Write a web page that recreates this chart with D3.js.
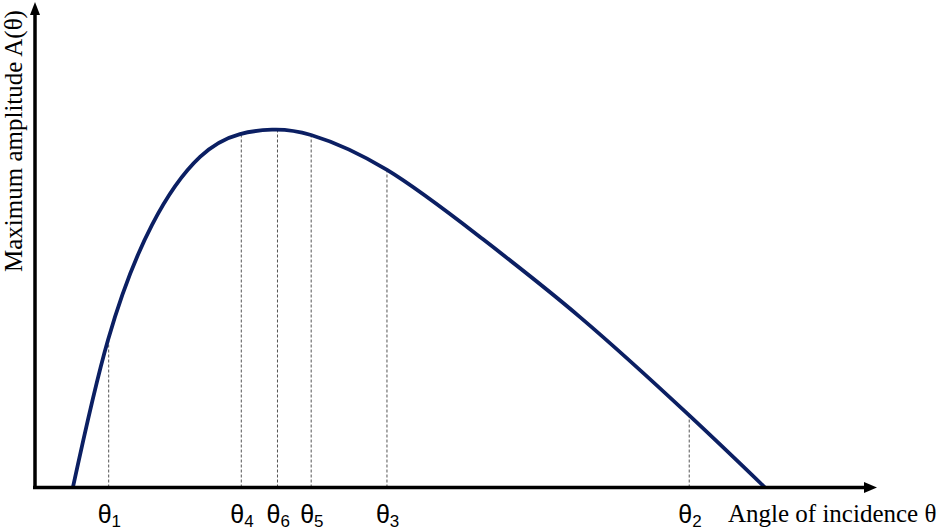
<!DOCTYPE html>
<html>
<head>
<meta charset="utf-8">
<script src="https://cdn.jsdelivr.net/npm/d3@7"></script>
<style>
  body { margin: 0; background: #fff; }
  .axisText { font-family: "Liberation Serif", "Times New Roman", serif; font-size: 25px; fill: #000; }
  .thetaText { font-family: "Liberation Sans", Arial, sans-serif; font-size: 25px; fill: #000; }
</style>
</head>
<body>
<div id="chart"></div>
<script>
// curve (angle units 0-100 along x axis, amplitude units 0-100 up y axis)
var curveAngle = [4.5, 8.67, 13.9, 19.6, 24.35, 28.15, 32.78, 41.81, 52.85, 64.73, 77.67, 86.7];
var curveAmp = [0, 30.4, 54.1, 68.1, 72.8, 73.7, 72.6, 65.4, 51.6, 35.1, 14.9, 0];

// marked angles and the height the dashed line reaches
var markSub = ["1", "4", "6", "5", "3", "2"];
var markAngle = [8.75, 24.5, 28.8, 32.8, 41.8, 77.7];
var markAmp = [30.3, 72.8, 73.7, 72.6, 65.2, 14.8];

var svgWidth = 944;
var svgHeight = 531;

var svg = d3.select("#chart")
  .append("svg")
  .attr("width", svgWidth)
  .attr("height", svgHeight);

var xScale = d3.scaleLinear().domain([0, 100]).range([35, 877]);
var yScale = d3.scaleLinear().domain([0, 100]).range([487.5, 2]);

var curveData = curveAngle.map(function (a, i) { return { x: a, y: curveAmp[i] }; });
var marks = markAngle.map(function (a, i) { return { x: a, y: markAmp[i], sub: markSub[i] }; });

// dashed guides
svg.selectAll(".guide")
  .data(marks)
  .enter()
  .append("line")
  .attr("class", "guide")
  .attr("x1", d => xScale(d.x))
  .attr("x2", d => xScale(d.x))
  .attr("y1", yScale(0))
  .attr("y2", d => yScale(d.y))
  .attr("stroke", "#555")
  .attr("stroke-width", 1)
  .attr("stroke-dasharray", "3,2");

// curve, natural spline keeps it smooth
var line = d3.line()
  .x(d => xScale(d.x))
  .y(d => yScale(d.y))
  .curve(d3.curveNatural);

svg.append("path")
  .datum(curveData)
  .attr("d", line)
  .attr("fill", "none")
  .attr("stroke", "#0b1f63")
  .attr("stroke-width", 3.8);

// axes with arrow heads
svg.append("line")
  .attr("x1", xScale(0) - 2).attr("y1", yScale(0))
  .attr("x2", xScale(100) - 10).attr("y2", yScale(0))
  .attr("stroke", "#000").attr("stroke-width", 3.5);

svg.append("line")
  .attr("x1", xScale(0)).attr("y1", yScale(0) + 1.5)
  .attr("x2", xScale(0)).attr("y2", yScale(100) + 10)
  .attr("stroke", "#000").attr("stroke-width", 3.5);

svg.append("path")
  .attr("d", d3.line()([[xScale(100), yScale(0)], [xScale(100) - 13, yScale(0) - 5.5], [xScale(100) - 13, yScale(0) + 5.5]]) + "Z")
  .attr("fill", "#000");

svg.append("path")
  .attr("d", d3.line()([[xScale(0), yScale(100)], [xScale(0) - 5, yScale(100) + 13], [xScale(0) + 5, yScale(100) + 13]]) + "Z")
  .attr("fill", "#000");

// theta labels
var labels = svg.selectAll(".thetaText")
  .data(marks)
  .enter()
  .append("text")
  .attr("class", "thetaText")
  .attr("x", d => xScale(d.x) - 11)
  .attr("y", 523);

labels.append("tspan").text("θ");
labels.append("tspan")
  .attr("dy", 4)
  .attr("font-size", 17)
  .text(d => d.sub);

// axis titles
svg.append("text")
  .attr("class", "axisText")
  .attr("x", 728)
  .attr("y", 522)
  .text("Angle of incidence θ");

svg.append("text")
  .attr("class", "axisText")
  .attr("transform", "translate(22, 272) rotate(-90)")
  .text("Maximum amplitude A(θ)");
</script>
</body>
</html>
